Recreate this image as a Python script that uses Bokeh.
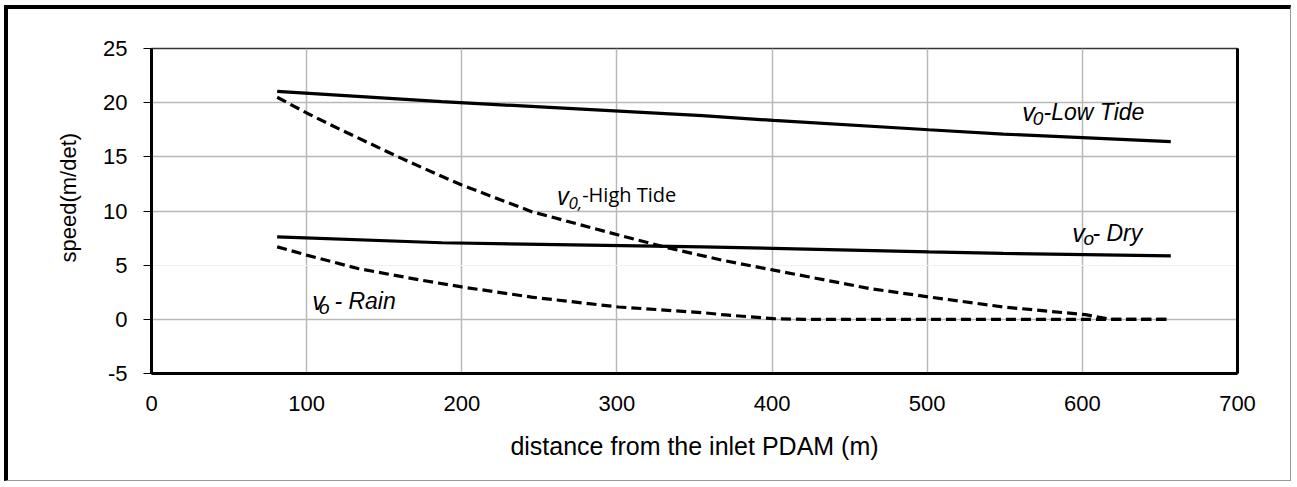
from bokeh.plotting import figure
from bokeh.models import Range1d, FixedTicker, LinearAxis, Label, Grid, Title
from bokeh.embed import file_html
from bokeh.resources import INLINE

# ---- data ----
x_low = [81, 187, 355, 401, 501, 549, 657]
y_low = [21.05, 20.1, 18.8, 18.36, 17.5, 17.1, 16.4]

x_dry = [81, 187, 355, 501, 549, 657]
y_dry = [7.62, 7.07, 6.69, 6.23, 6.08, 5.86]

x_high = [81, 100, 122, 159, 187, 200, 245, 301, 333, 368, 401, 463, 501, 549, 602, 618, 657]
y_high = [20.5, 19.05, 17.5, 15.0, 13.2, 12.4, 9.94, 7.78, 6.6, 5.45, 4.54, 2.84, 2.07, 1.14, 0.43, 0.0, 0.0]

x_rain = [81, 100, 133, 174, 200, 245, 301, 355, 368, 401, 420, 657]
y_rain = [6.69, 5.93, 4.69, 3.61, 2.99, 2.05, 1.14, 0.62, 0.43, 0.06, 0.0, 0.0]

x_ticks = [0, 100, 200, 300, 400, 500, 600, 700]
y_ticks = [-5, 0, 5, 10, 15, 20, 25]

FONT = "Liberation Sans"

p = figure(width=1287, height=476, output_backend="svg", toolbar_location=None,
           x_range=Range1d(0, 700), y_range=Range1d(-5, 25),
           min_border_left=143, min_border_right=58, min_border_top=39, min_border_bottom=112)
p.styles = {"margin-left": "4px", "margin-top": "5px",
            "border-left": "4px solid black", "border-top": "4px solid black",
            "border-right": "1px solid #999999", "border-bottom": "1px solid #999999"}

p.outline_line_color = "#333333"
p.outline_line_width = 1.5

# axes
p.xaxis.ticker = FixedTicker(ticks=x_ticks)
p.yaxis.ticker = FixedTicker(ticks=y_ticks)
p.yaxis.major_label_overrides = {-5: "-5"}
for ax in (p.xaxis[0], p.yaxis[0]):
    ax.axis_line_width = 3
    ax.axis_line_color = "black"
    ax.major_label_text_font = FONT
    ax.major_label_text_font_size = "22px"
    ax.major_label_text_color = "black"
    ax.minor_tick_line_color = None
    ax.axis_label_text_font = FONT
    ax.axis_label_text_font_style = "normal"
    ax.axis_label_text_color = "black"
p.xaxis.major_tick_line_color = None
p.xaxis.major_tick_out = 0
p.xaxis.major_tick_in = 0
p.xaxis.major_label_standoff = 22
p.xaxis.axis_label = "distance from the inlet PDAM (m)"
p.xaxis.axis_label_text_font_size = "25px"
p.xaxis.axis_label_standoff = 18

p.yaxis.major_tick_out = 8
p.yaxis.major_tick_in = 0
p.yaxis.major_tick_line_color = "black"
p.yaxis.major_label_standoff = 16

right = LinearAxis(ticker=FixedTicker(ticks=[]), axis_line_width=3, axis_line_color="black",
                   major_label_text_font_size="0px", major_tick_line_color=None,
                   minor_tick_line_color=None)
p.add_layout(right, "right")

# y axis title (sits a little above the frame centre, as in the reference)
ytitle = Title(text="speed(m/det)", align="left", offset=111, vertical_align="bottom",
               standoff=40, text_font=FONT, text_font_size="22px",
               text_font_style="normal", text_color="black")
p.add_layout(ytitle, "left")

# grids
p.xgrid.ticker = FixedTicker(ticks=[100, 200, 300, 400, 500, 600])
p.xgrid.grid_line_color = "#b8b8b8"
p.xgrid.grid_line_width = 1.5
p.ygrid.ticker = FixedTicker(ticks=[0, 10, 15, 20])
p.ygrid.grid_line_color = "#b8b8b8"
p.ygrid.grid_line_width = 1.5
p.add_layout(Grid(dimension=1, ticker=FixedTicker(ticks=[5]), grid_line_color="#f0f0f0", grid_line_width=1))

# series
p.line(x_low, y_low, line_color="black", line_width=3.2)
p.line(x_dry, y_dry, line_color="black", line_width=3.2)
p.line(x_high, y_high, line_color="black", line_width=3.2, line_dash="10 5")
p.line(x_rain, y_rain, line_color="black", line_width=3.2, line_dash="10 5")

# annotations
def lab(x, y, text, size, style="italic", font=FONT):
    p.add_layout(Label(x=x, y=y, text=text, text_font=font, text_font_size=size,
                       text_font_style=style, text_color="black",
                       text_align="left", text_baseline="alphabetic"))

# v0-Low Tide
lab(561.2, 19.15, "v", "25px")
lab(568.0, 18.5, "0", "19px")
lab(575.0, 19.15, "-Low Tide", "23px")
# vo- Dry
lab(593.5, 7.93, "v", "25px")
lab(600.7, 7.5, "o", "19px")
lab(606.5, 7.93, "- Dry", "23px")
# vo - Rain
lab(103.6, 1.69, "v", "25px")
lab(108.0, 1.05, "o", "19px")
lab(117.9, 1.69, "- Rain", "23px")
# v0,-High Tide
lab(261.5, 11.5, "v", "25px", font="Open Sans")
lab(268.8, 10.75, "0,", "17px", font="Open Sans")
lab(277.6, 11.5, "-High Tide", "20px", style="normal", font="Open Sans")

open("out.html", "w").write(file_html(p, INLINE))
